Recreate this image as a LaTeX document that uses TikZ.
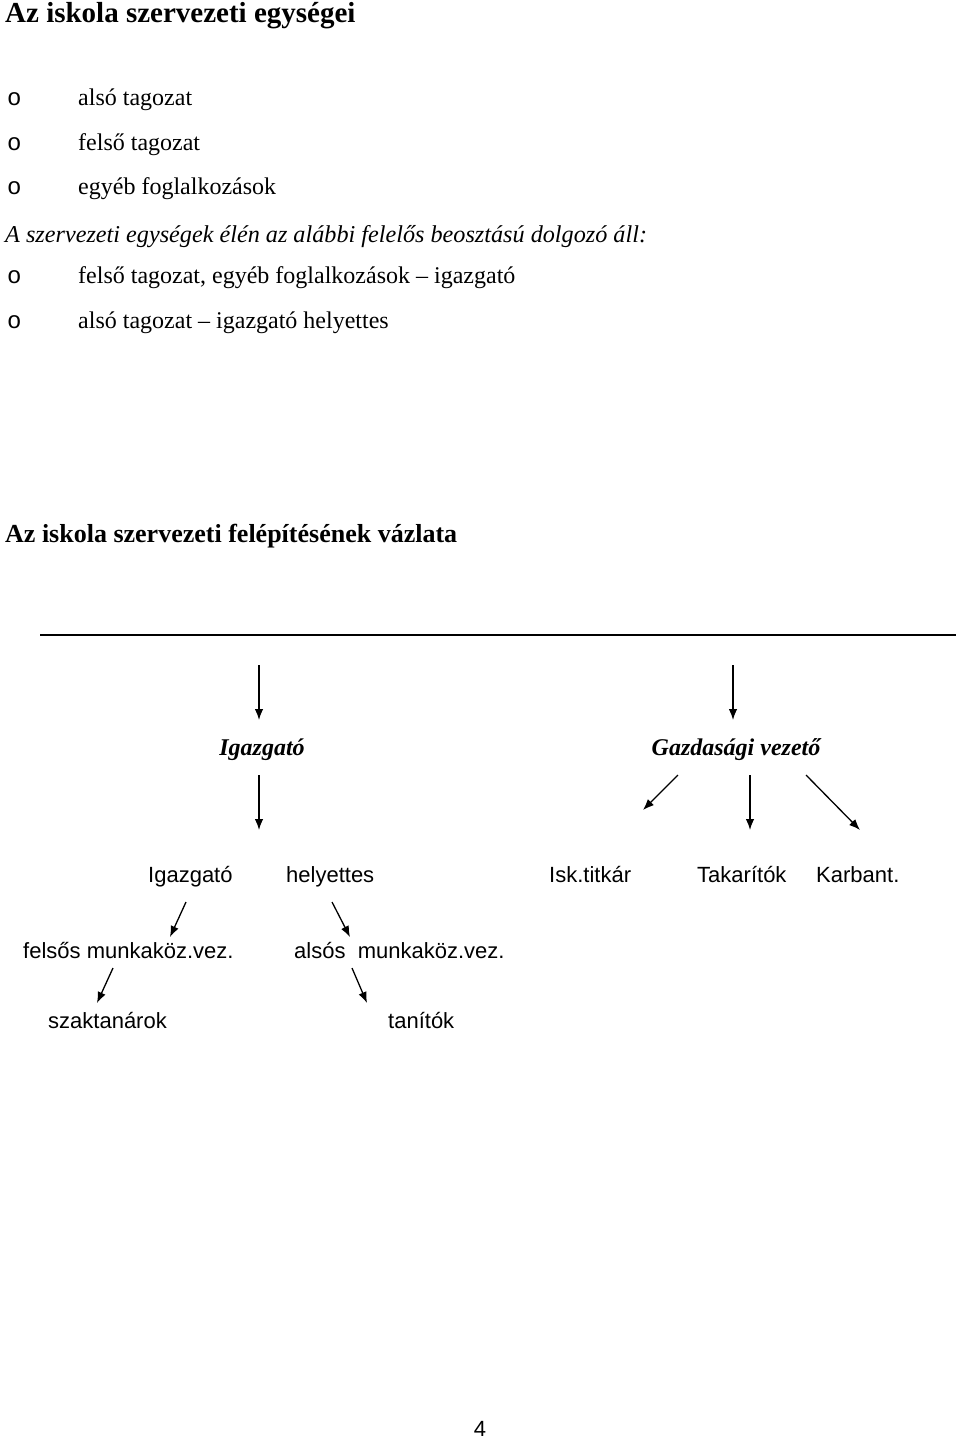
\documentclass[tikz,border=0pt]{standalone}
\usepackage{fontspec}
\setmainfont{Liberation Serif}
\newfontfamily\arialf{Liberation Sans}
\newfontfamily\courf{Liberation Mono}
\usetikzlibrary{arrows.meta}
\begin{document}
\begin{tikzpicture}[x=1pt,y=-1pt,
  txt/.style={anchor=base west,inner sep=0pt,font=\fontsize{24}{28}\selectfont},
  bul/.style={anchor=base west,inner sep=0pt,font=\courf\fontsize{24}{28}\selectfont},
  ttl/.style={anchor=base west,inner sep=0pt,font=\bfseries\fontsize{29}{34}\selectfont},
  hdr/.style={anchor=base,inner sep=0pt,font=\bfseries\itshape\fontsize{24}{28}\selectfont},
  lbl/.style={anchor=base west,inner sep=0pt,font=\arialf\fontsize{22}{26}\selectfont},
  arr/.style={line width=1.3pt,-{Latex[length=11pt,width=8.5pt]}}]
\useasboundingbox[fill=white] (0,0) rectangle (960,1438);
\node[ttl] (t1) at (5,22) {Az iskola szervezeti egységei};
\node[bul] (b1) at (7,105) {o};
\node[txt] (l1) at (78,105) {alsó tagozat};
\node[bul] (b2) at (7,150) {o};
\node[txt] (l2) at (78,150) {felső tagozat};
\node[bul] (b3) at (7,194) {o};
\node[txt] (l3) at (78,194) {egyéb foglalkozások};
\node[txt,font=\itshape\fontsize{24.2}{28}\selectfont] (l4) at (5,242) {A szervezeti egységek élén az alábbi felelős beosztású dolgozó áll:};
\node[bul] (b5) at (7,283) {o};
\node[txt] (l5) at (78,283) {felső tagozat, egyéb foglalkozások -- igazgató};
\node[bul] (b6) at (7,328) {o};
\node[txt] (l6) at (78,328) {alsó tagozat -- igazgató helyettes};
\node[ttl,font=\bfseries\fontsize{26}{30}\selectfont] (t2) at (5,542) {Az iskola szervezeti felépítésének vázlata};
\coordinate (hl) at (40,635);
\coordinate (hr) at (956,635);
\draw[line width=2pt] (hl) -- (hr);
\node[hdr] (ig) at (262,755) {Igazgató};
\node[hdr] (gv) at (736,755) {Gazdasági vezető};
\node[lbl] (igh1) at (148,882) {Igazgató};
\node[lbl] (igh2) at (286,882) {helyettes};
\node[lbl] (isk) at (549,882) {Isk.titkár};
\node[lbl] (tak) at (697,882) {Takarítók};
\node[lbl] (kar) at (816,882) {Karbant.};
\node[lbl] (fm) at (23,958) {felsős munkaköz.vez.};
\node[lbl] (am) at (294,958) {alsós\ \ munkaköz.vez.};
\node[lbl] (sz) at (48,1028) {szaktanárok};
\node[lbl] (ta) at (388,1028) {tanítók};
\node[anchor=base,inner sep=0pt,font=\arialf\fontsize{22}{26}\selectfont] (pg) at (480,1436) {4};
\coordinate (a1s) at (259,665); \coordinate (a1e) at (259,720);
\coordinate (a2s) at (733,665); \coordinate (a2e) at (733,720);
\coordinate (a3s) at (259,775); \coordinate (a3e) at (259,830);
\coordinate (a4s) at (678,775); \coordinate (a4e) at (643,810);
\coordinate (a5s) at (750,775); \coordinate (a5e) at (750,830);
\coordinate (a6s) at (806,775); \coordinate (a6e) at (860,830);
\coordinate (a7s) at (186,902); \coordinate (a7e) at (170,937);
\coordinate (a8s) at (332,902); \coordinate (a8e) at (350,937);
\coordinate (a9s) at (113,968); \coordinate (a9e) at (97,1003);
\coordinate (a10s) at (352,968); \coordinate (a10e) at (367,1003);
\foreach \i in {1,...,10} {\draw[arr] (a\i s) -- (a\i e);}
\end{tikzpicture}
\end{document}
